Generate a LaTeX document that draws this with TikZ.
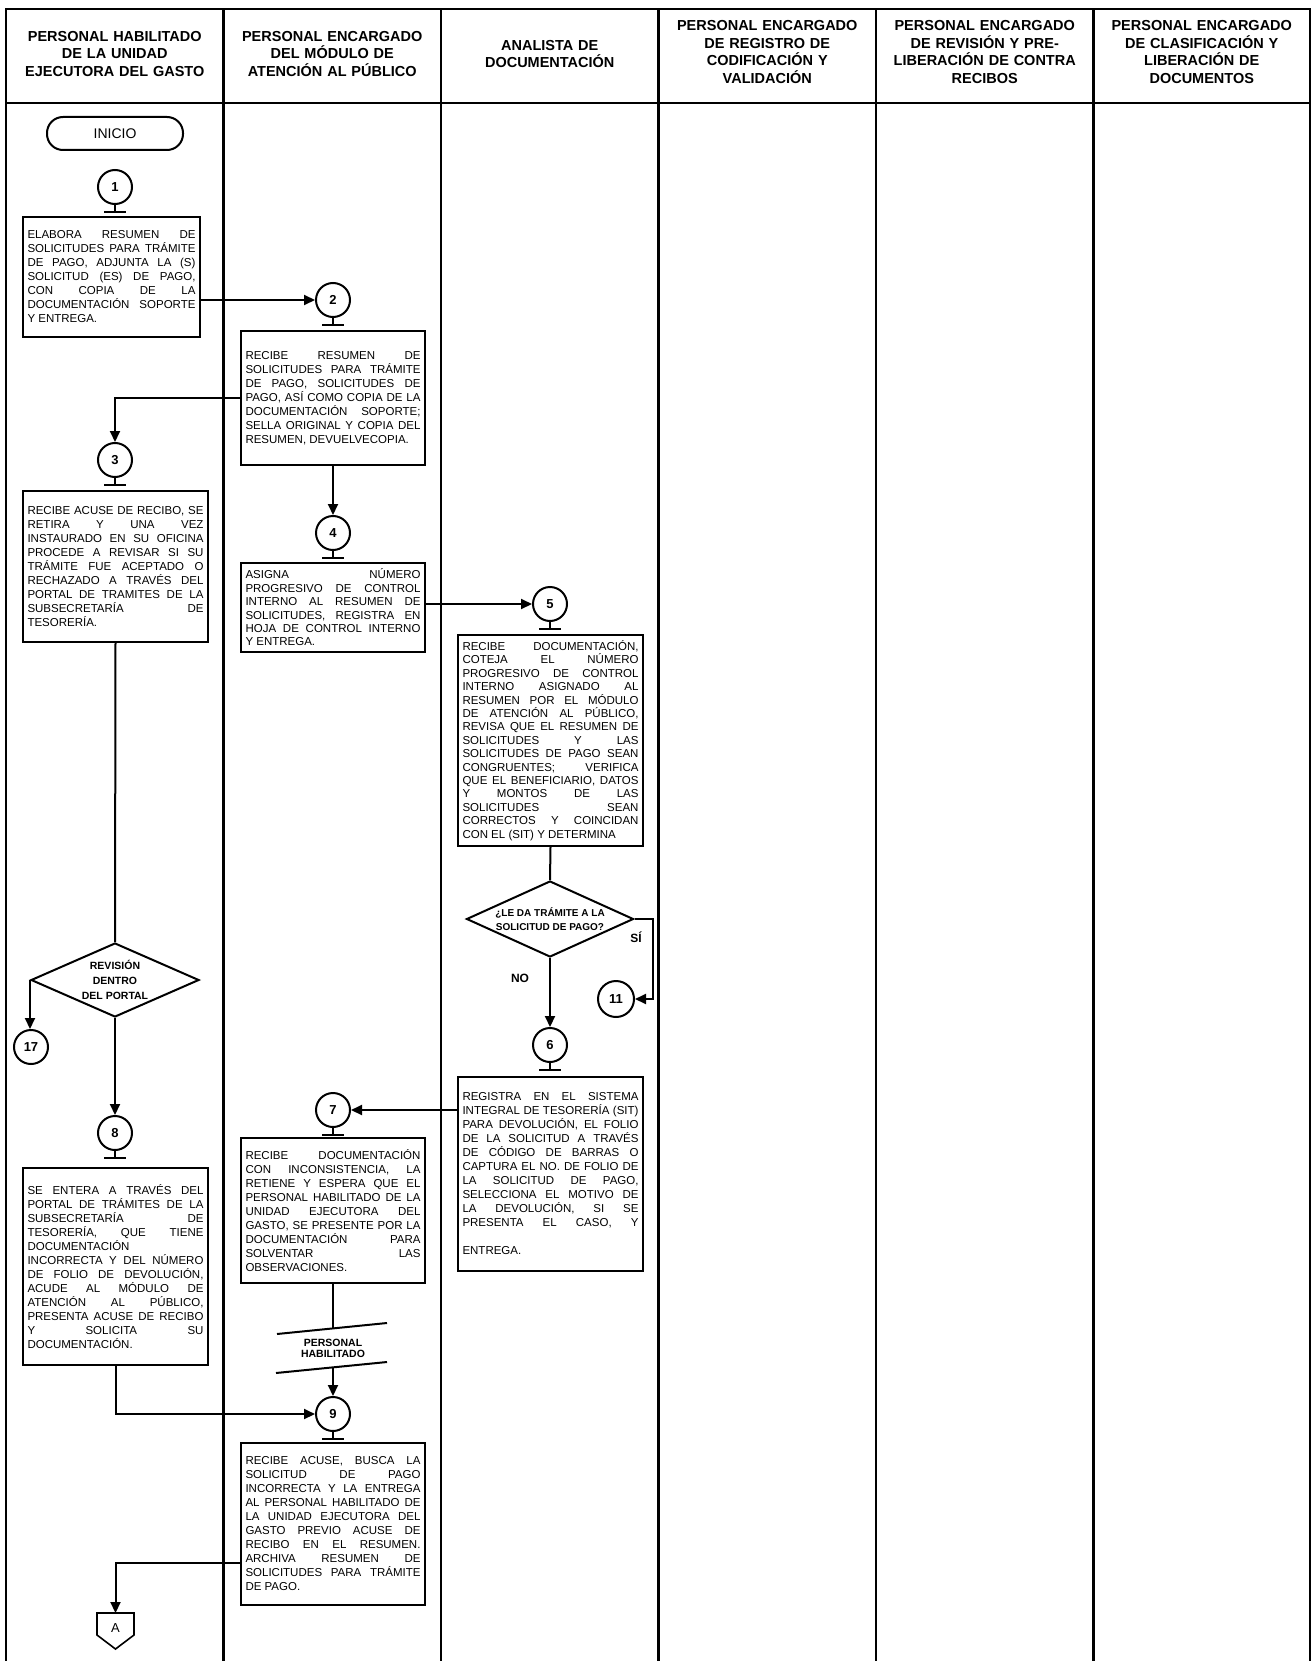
\documentclass[tikz,border=0pt]{standalone}
\usepackage{fontspec}
\setmainfont{Liberation Sans}
\usetikzlibrary{shapes.geometric,arrows.meta,calc}
\newcommand\bodyfnt{\fontsize{11.5}{14}\selectfont}
\newcommand\bodyfnttight{\fontsize{11.5}{13.4}\selectfont}
\newcommand\headfnt{\fontsize{14.5}{17.5}\selectfont\bfseries}
\tolerance=10000 \hyphenpenalty=10000 \hbadness=10000 \exhyphenpenalty=10000
\begin{document}
\begin{tikzpicture}[x=1pt,y=-1pt,
  conn/.style={line width=2pt},
  arr/.style={line width=2pt,-{Triangle[length=11pt,width=10pt]}},
  proc/.style={draw,line width=2.1pt,rectangle,align=justify,inner xsep=4.5pt,inner ysep=4pt,font=\bodyfnt},
  circ/.style={draw,circle,line width=2pt,minimum size=34pt,inner sep=0pt,font=\fontsize{13}{15}\selectfont\bfseries},
  hdr/.style={align=center,font=\headfnt,text width=205pt},
  dec/.style={draw,diamond,line width=2pt,inner sep=0pt},
  lane/.style={line width=2.4pt},
  lbl/.style={font=\fontsize{12}{14}\selectfont\bfseries}]

\useasboundingbox (0,0) rectangle (1312,1661);

% swimlanes
\draw[lane] (6,1661) -- (6,9) -- (1310,9) -- (1310,1661);
\draw[lane] (6,103) -- (1310,103);
\foreach \x in {223.5,441,658.5,876,1093.5} \draw[lane] (\x,9) -- (\x,1661);

\node[hdr] (h1) at (114.75,54) {PERSONAL HABILITADO\\DE LA UNIDAD\\EJECUTORA DEL GASTO};
\node[hdr] (h2) at (332.25,54) {PERSONAL ENCARGADO\\DEL MÓDULO DE\\ATENCIÓN AL PÚBLICO};
\node[hdr] (h3) at (549.75,54) {ANALISTA DE\\DOCUMENTACIÓN};
\node[hdr] (h4) at (767.25,52) {PERSONAL ENCARGADO\\DE REGISTRO DE\\CODIFICACIÓN Y\\VALIDACIÓN};
\node[hdr] (h5) at (984.75,52) {PERSONAL ENCARGADO\\DE REVISIÓN Y PRE-\\LIBERACIÓN DE CONTRA\\RECIBOS};
\node[hdr] (h6) at (1201.75,52) {PERSONAL ENCARGADO\\DE CLASIFICACIÓN Y\\LIBERACIÓN DE\\DOCUMENTOS};

% start
\node[draw,line width=2pt,rounded corners=16pt,minimum width=136pt,minimum height=33pt,font=\fontsize{14}{16}\selectfont] (inicio) at (115,133.5) {INICIO};

% circles
\node[circ] (c1) at (115,187) {1};
\node[circ] (c2) at (333,300) {2};
\node[circ] (c3) at (115,460) {3};
\node[circ] (c4) at (333,533) {4};
\node[circ] (c5) at (550,604) {5};
\node[circ] (c6) at (550,1045) {6};
\node[circ] (c7) at (333,1110) {7};
\node[circ] (c8) at (115,1133) {8};
\node[circ] (c9) at (333,1414) {9};
\node[circ,minimum size=36pt] (c11) at (616,999) {11};
\node[circ] (c17) at (31,1047) {17};
\foreach \c in {c1,c2,c3,c4,c5,c6,c7,c8,c9}
  \draw[conn] (\c.south) -- ++(0,7) ++(-11,0) -- ++(22,0);

% boxes
\node[proc,text width=168pt,minimum height=120pt] (b1) at (111.5,277)
{ELABORA RESUMEN DE\linebreak SOLICITUDES PARA TRÁMITE\linebreak DE PAGO, ADJUNTA LA (S)\linebreak SOLICITUD (ES) DE PAGO,\linebreak CON COPIA DE LA\linebreak DOCUMENTACIÓN SOPORTE\linebreak Y ENTREGA.};

\node[proc,text width=175pt,minimum height=134pt] (b2) at (333,398)
{RECIBE RESUMEN DE\linebreak SOLICITUDES PARA TRÁMITE\linebreak DE PAGO, SOLICITUDES DE\linebreak PAGO, ASÍ COMO COPIA DE LA\linebreak DOCUMENTACIÓN SOPORTE;\linebreak SELLA ORIGINAL Y COPIA DEL\linebreak RESUMEN, DEVUELVECOPIA.};

\node[proc,text width=176pt,minimum height=151pt] (b3) at (115.5,566.5)
{RECIBE ACUSE DE RECIBO, SE\linebreak RETIRA Y UNA VEZ\linebreak INSTAURADO EN SU OFICINA\linebreak PROCEDE A REVISAR SI SU\linebreak TRÁMITE FUE ACEPTADO O\linebreak RECHAZADO A TRAVÉS DEL\linebreak PORTAL DE TRAMITES DE LA\linebreak SUBSECRETARÍA DE\linebreak TESORERÍA.};

\node[proc,font=\bodyfnttight,text width=175pt,minimum height=89pt] (b4) at (333,607.5)
{ASIGNA NÚMERO\linebreak PROGRESIVO DE CONTROL\linebreak INTERNO AL RESUMEN DE\linebreak SOLICITUDES, REGISTRA EN\linebreak HOJA DE CONTROL INTERNO\linebreak Y ENTREGA.};

\node[proc,font=\bodyfnttight,text width=176pt,minimum height=211pt] (b5) at (550.5,740.5)
{RECIBE DOCUMENTACIÓN,\linebreak COTEJA EL NÚMERO\linebreak PROGRESIVO DE CONTROL\linebreak INTERNO ASIGNADO AL\linebreak RESUMEN POR EL MÓDULO\linebreak DE ATENCIÓN AL PÚBLICO,\linebreak REVISA QUE EL RESUMEN DE\linebreak SOLICITUDES Y LAS\linebreak SOLICITUDES DE PAGO SEAN\linebreak CONGRUENTES; VERIFICA\linebreak QUE EL BENEFICIARIO, DATOS\linebreak Y MONTOS DE LAS\linebreak SOLICITUDES SEAN\linebreak CORRECTOS Y COINCIDAN\linebreak CON EL (SIT) Y DETERMINA};

\node[proc,text width=176pt,minimum height=194pt] (b6) at (550.5,1174)
{REGISTRA EN EL SISTEMA\linebreak INTEGRAL DE TESORERÍA (SIT)\linebreak PARA DEVOLUCIÓN, EL FOLIO\linebreak DE LA SOLICITUD A TRAVÉS\linebreak DE CÓDIGO DE BARRAS O\linebreak CAPTURA EL NO. DE FOLIO DE\linebreak LA SOLICITUD DE PAGO,\linebreak SELECCIONA EL MOTIVO DE\linebreak LA DEVOLUCIÓN, SI SE\linebreak PRESENTA EL CASO, Y\linebreak\mbox{}\linebreak ENTREGA.};

\node[proc,text width=175pt,minimum height=145pt] (b7) at (333,1210.5)
{RECIBE DOCUMENTACIÓN\linebreak CON INCONSISTENCIA, LA\linebreak RETIENE Y ESPERA QUE EL\linebreak PERSONAL HABILITADO DE LA\linebreak UNIDAD EJECUTORA DEL\linebreak GASTO, SE PRESENTE POR LA\linebreak DOCUMENTACIÓN PARA\linebreak SOLVENTAR LAS\linebreak OBSERVACIONES.};

\node[proc,text width=176pt,minimum height=197pt] (b8) at (115.5,1266.5)
{SE ENTERA A TRAVÉS DEL\linebreak PORTAL DE TRÁMITES DE LA\linebreak SUBSECRETARÍA DE\linebreak TESORERÍA, QUE TIENE\linebreak DOCUMENTACIÓN\linebreak INCORRECTA Y DEL NÚMERO\linebreak DE FOLIO DE DEVOLUCIÓN,\linebreak ACUDE AL MÓDULO DE\linebreak ATENCIÓN AL PÚBLICO,\linebreak PRESENTA ACUSE DE RECIBO\linebreak Y SOLICITA SU\linebreak DOCUMENTACIÓN.};

\node[proc,text width=175pt,minimum height=162pt] (b9) at (333,1524)
{RECIBE ACUSE, BUSCA LA\linebreak SOLICITUD DE PAGO\linebreak INCORRECTA Y LA ENTREGA\linebreak AL PERSONAL HABILITADO DE\linebreak LA UNIDAD EJECUTORA DEL\linebreak GASTO PREVIO ACUSE DE\linebreak RECIBO EN EL RESUMEN.\linebreak ARCHIVA RESUMEN DE\linebreak SOLICITUDES PARA TRÁMITE\linebreak DE PAGO.};

% decisions
\node[dec,minimum width=167pt,minimum height=76pt] (d1) at (550,919) {};
\node[font=\fontsize{10}{13.5}\selectfont\bfseries,align=center] (d1t) at (d1.center) {¿LE DA TRÁMITE A LA\\SOLICITUD DE PAGO?};
\node[dec,minimum width=168pt,minimum height=74pt] (d2) at (115,980) {};
\node[font=\fontsize{10.5}{15}\selectfont\bfseries,align=center] (d2t) at (d2.center) {REVISIÓN\\DENTRO\\DEL PORTAL};

\node[lbl] (si) at (636,937) {SÍ};
\node[lbl] (no) at (520,978) {NO};

% personal habilitado marker
\coordinate (phT) at (333,1328.5);
\coordinate (phB) at (333,1367.5);
\coordinate (phTl) at (277,1334); \coordinate (phTr) at (387,1323);
\coordinate (phBl) at (276,1373); \coordinate (phBr) at (387,1362);
\draw[conn] (phTl) -- (phTr);
\draw[conn] (phBl) -- (phBr);
\node[font=\fontsize{10.5}{11}\selectfont\bfseries,align=center] (ph) at (333,1348) {PERSONAL\\HABILITADO};

% off-page connector A
\coordinate (Atop) at (115.5,1613);
\coordinate (aturn) at (115.5,1563);
\draw[line width=1.6pt] (97,1613) -- (134,1613) -- (134,1635) -- (115.5,1649) -- (97,1635) -- cycle;
\node[font=\fontsize{13}{15}\selectfont] (offA) at (115.5,1628) {A};

% connectors
\draw[arr] (b1.east |- c2.west) -- (c2.west);
\draw[arr] (b2.west) -| (c3.north);
\draw[arr] (b2.south) -- (c4.north);
\draw[arr] (b4.east |- c5.west) -- (c5.west);
\draw[conn] (b5.south) -- (d1.north);
\draw[arr] (d1.east) -- ++(18,0) |- (c11.east);
\draw[arr] (d1.south) -- (c6.north);
\draw[arr] (b6.west |- c7.east) -- (c7.east);
\draw[conn] (b7.south) -- (phT);
\draw[arr] (phB) -- (c9.north);
\draw[conn] (b3.south) -- (d2.north);
\draw[arr] (d2.west) -- (d2.west |- c17.north);
\draw[arr] (d2.south) -- (c8.north);
\draw[arr] (b8.south) |- (c9.west);
\draw[arr] (b9.west |- aturn) -- (aturn) -- (Atop);
\end{tikzpicture}
\end{document}
